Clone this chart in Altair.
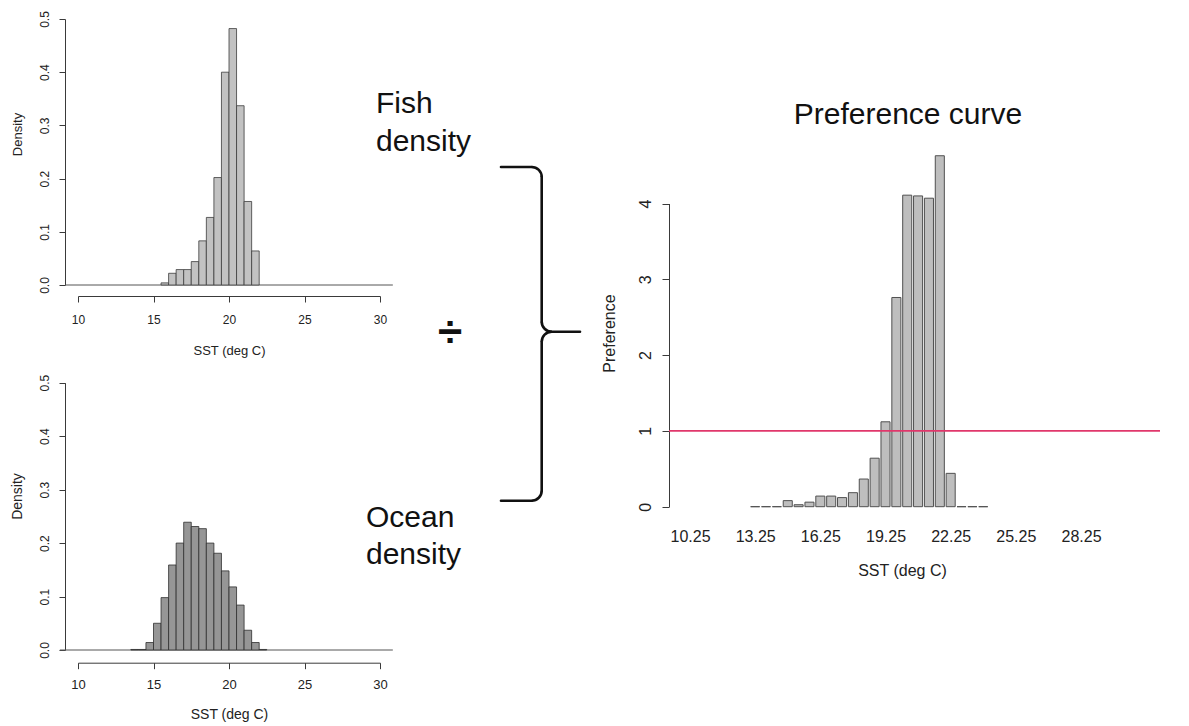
import altair as alt
import pandas as pd

# ---------------- data ----------------
fish_bin_start = [15.5, 16.0, 16.5, 17.0, 17.5, 18.0, 18.5, 19.0, 19.5, 20.0, 20.5, 21.0, 21.5]
fish_density = [0.004, 0.022, 0.029, 0.029, 0.044, 0.083, 0.127, 0.202, 0.400, 0.482, 0.337, 0.157, 0.064]

ocean_bin_start = [13.5, 14.0, 14.5, 15.0, 15.5, 16.0, 16.5, 17.0, 17.5, 18.0, 18.5, 19.0,
                   19.5, 20.0, 20.5, 21.0, 21.5, 22.0]
ocean_density = [0.001, 0.001, 0.014, 0.050, 0.098, 0.159, 0.200, 0.239, 0.231, 0.227, 0.200, 0.181,
                 0.148, 0.118, 0.084, 0.037, 0.014, 0.001]

pref_mid = [13.25, 13.75, 14.25, 14.75, 15.25, 15.75, 16.25, 16.75, 17.25, 17.75, 18.25,
            18.75, 19.25, 19.75, 20.25, 20.75, 21.25, 21.75, 22.25, 22.75, 23.25, 23.75]
pref_value = [0.0, 0.0, 0.0, 0.08, 0.026, 0.06, 0.14, 0.14, 0.12, 0.185, 0.365,
              0.64, 1.12, 2.76, 4.11, 4.10, 4.07, 4.63, 0.44, 0.0, 0.0, 0.0]

density_ticks = [0.0, 0.1, 0.2, 0.3, 0.4, 0.5]
sst_ticks = [10, 15, 20, 25, 30]
pref_ticks = [0, 1, 2, 3, 4]
pref_label_values = [10.25, 13.25, 16.25, 19.25, 22.25, 25.25, 28.25]
reference_level = 1

fish_df = pd.DataFrame({"start": fish_bin_start, "density": fish_density})
ocean_df = pd.DataFrame({"start": ocean_bin_start, "density": ocean_density})
pref_df = pd.DataFrame({"mid": pref_mid, "pref": pref_value})
one = pd.DataFrame({"k": [0]})

FONT = "Liberation Sans"
W, H = 1189, 726
AX = "#3a3a3a"
TXT = "#222222"


def sc(domain, rng):
    return alt.Scale(domain=domain, range=rng, nice=False, zero=False)


# scales (pixel ranges place each panel on the page)
xA = sc([10, 30], [78, 380])
yA = sc([0, 0.5], [285, 19])
xB = sc([10, 30], [78, 380])
yB = sc([0, 0.5], [650, 382.7])
xC = sc([10.25, 28.25], [690, 1081])
yC = sc([0, 4], [506.7, 203.5])


def left_axis(offset, values, fmt, title, title_x, title_y, lab_fs, title_fs, tick, pad):
    return alt.Axis(orient="left", offset=offset, values=values, format=fmt, grid=False,
                    title=title, labelAngle=270, labelAlign="center", labelBaseline="alphabetic",
                    labelPadding=pad, tickSize=tick, labelFontSize=lab_fs, labelFont=FONT,
                    labelColor=TXT, labelOverlap=False, labelFlush=False,
                    titleFont=FONT, titleFontSize=title_fs, titleFontWeight="normal",
                    titleColor=TXT, titleAngle=270, titleAlign="center", titleBaseline="middle",
                    titleX=title_x, titleY=title_y, domainColor=AX, tickColor=AX,
                    domainWidth=1, tickWidth=1)


def bottom_axis(axis_y, values, fmt, title, title_x, title_y, lab_fs, title_fs, tick, pad,
                show_line=True):
    return alt.Axis(orient="bottom", offset=axis_y - H, values=values, format=fmt, grid=False,
                    title=title, labelAngle=0, labelAlign="center", labelBaseline="top",
                    labelPadding=pad, tickSize=tick, ticks=show_line, domain=show_line,
                    labelFontSize=lab_fs, labelFont=FONT, labelColor=TXT,
                    labelOverlap=False, labelFlush=False,
                    titleFont=FONT, titleFontSize=title_fs, titleFontWeight="normal",
                    titleColor=TXT, titleAlign="center", titleBaseline="middle",
                    titleX=title_x, titleY=title_y, domainColor=AX, tickColor=AX,
                    domainWidth=1, tickWidth=1)


# ---------------- top histogram: fish density ----------------
top_bars = alt.Chart(fish_df).transform_calculate(end="datum.start + 0.5").mark_rect(
    fill="#c2c2c2", stroke="#3c3c3c", strokeWidth=0.8
).encode(
    x=alt.X("start:Q", scale=xA,
            axis=bottom_axis(296, sst_ticks, "d", "SST (deg C)", 229, 54, 12, 13, 6, 12)),
    x2="end:Q",
    y=alt.Y("density:Q", scale=yA,
            axis=left_axis(-65, density_ticks, ".1f", "Density", -48, 134, 12, 13, 6, 11)),
    y2=alt.datum(0),
)

top_base = alt.Chart(one).mark_rule(color="#555555", strokeWidth=1).encode(
    x=alt.XDatum(9.15, type="quantitative", scale=xA, axis=None),
    x2=alt.X2Datum(30.85),
    y=alt.YDatum(0, type="quantitative", scale=yA, axis=None),
)

# ---------------- bottom histogram: ocean density ----------------
bot_bars = alt.Chart(ocean_df).transform_calculate(end="datum.start + 0.5").mark_rect(
    fill="#969696", stroke="#2e2e2e", strokeWidth=0.8
).encode(
    x=alt.X("start:Q", scale=xB,
            axis=bottom_axis(662.7, sst_ticks, "d", "SST (deg C)", 229, 52, 13, 14, 6, 10)),
    x2="end:Q",
    y=alt.Y("density:Q", scale=yB,
            axis=left_axis(-65, density_ticks, ".1f", "Density", -48, 496, 12, 14, 6, 11)),
    y2=alt.datum(0),
)

bot_base = alt.Chart(one).mark_rule(color="#555555", strokeWidth=1).encode(
    x=alt.XDatum(8.8, type="quantitative", scale=xB, axis=None),
    x2=alt.X2Datum(30.85),
    y=alt.YDatum(0, type="quantitative", scale=yB, axis=None),
)

# ---------------- preference curve ----------------
pref_bars = alt.Chart(pref_df).transform_calculate(
    lo="datum.mid - 0.2083", hi="datum.mid + 0.2083"
).mark_rect(fill="#bebebe", stroke="#505050", strokeWidth=1).encode(
    x=alt.X("lo:Q", scale=xC,
            axis=bottom_axis(521, pref_label_values, ".2f", "SST (deg C)", 902, 49, 16, 16, 0, 7,
                             show_line=False)),
    x2="hi:Q",
    y=alt.Y("pref:Q", scale=yC,
            axis=left_axis(-669, pref_ticks, "d", "Preference", -60, 333, 16, 16, 7, 12)),
    y2=alt.datum(0),
)

pref_line = alt.Chart(one).mark_rule(color="#e0376b", strokeWidth=1.6).encode(
    x=alt.value(669), x2=alt.value(1160),
    y=alt.YDatum(reference_level, type="quantitative", scale=yC, axis=None),
)

# ---------------- annotations ----------------
def label(text, x, y, size, align="left", weight="normal", baseline="alphabetic"):
    return alt.Chart(one).mark_text(
        font=FONT, fontSize=size, align=align, baseline=baseline, fontWeight=weight, color="#111111"
    ).encode(x=alt.value(x), y=alt.value(y), text=alt.value(text))


texts = [
    label("Fish", 376, 113, 30),
    label("density", 376, 151, 30),
    label("Ocean", 366, 527, 30),
    label("density", 366, 564, 30),
    label("Preference curve", 908, 124, 30, align="center"),
    label("÷", 450, 334, 44, align="center", weight="bold", baseline="middle"),
]

BR = "#111111"
BW = 2.6


def seg(x1, x2, y1, y2):
    return alt.Chart(one).mark_rule(color=BR, strokeWidth=BW, strokeCap="round").encode(
        x=alt.value(x1), x2=alt.value(x2), y=alt.value(y1), y2=alt.value(y2))


def corner(cx, cy, t1, t2):
    return alt.Chart(one).mark_arc(
        color=BR, radius=10 + BW / 2, radius2=10 - BW / 2, theta=t1, theta2=t2
    ).encode(x=alt.value(cx), y=alt.value(cy))


PI = 3.14159265
brace = [
    seg(501, 531.7, 167, 167),
    corner(531.7, 177, 0, PI / 2),
    seg(541.7, 541.7, 177, 321.7),
    corner(551.7, 321.7, PI, 1.5 * PI),
    seg(551.7, 580, 331.7, 331.7),
    corner(551.7, 341.7, 1.5 * PI, 2 * PI),
    seg(541.7, 541.7, 341.7, 490.7),
    corner(531.7, 490.7, PI / 2, PI),
    seg(501, 531.7, 500.7, 500.7),
]

chart = alt.layer(
    top_base, top_bars, bot_base, bot_bars, pref_bars, pref_line, *texts, *brace
).resolve_scale(x="independent", y="independent").resolve_axis(
    x="independent", y="independent"
).properties(
    width=W, height=H, padding=0, autosize=alt.AutoSizeParams(type="none"),
    background="white"
).configure_view(stroke=None)

chart.save("out.html", embed_options={"renderer": "svg", "actions": False})
